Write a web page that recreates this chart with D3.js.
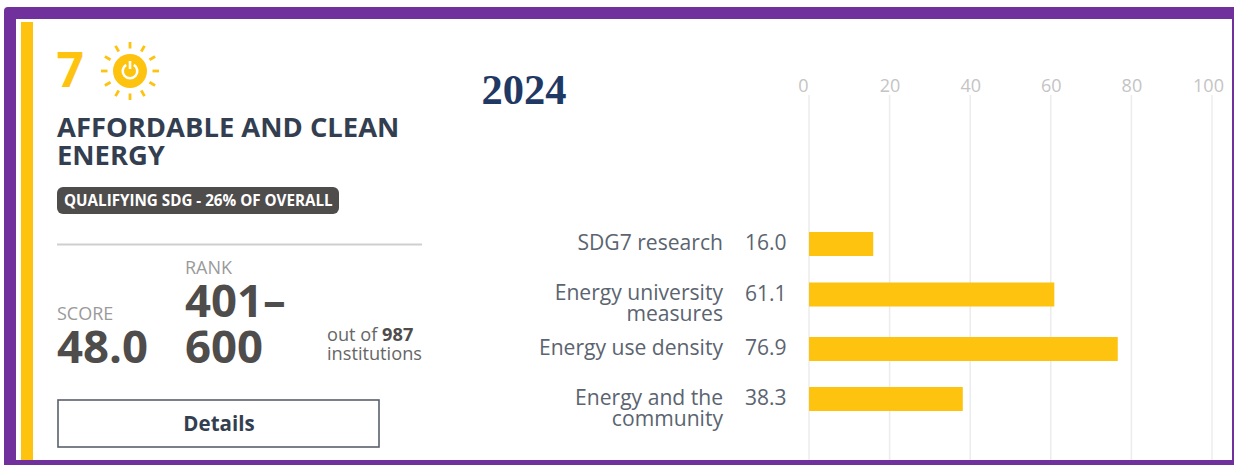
<!DOCTYPE html>
<html><head><meta charset="utf-8">
<script src="https://cdn.jsdelivr.net/npm/d3@7/dist/d3.min.js"></script>
<style>html,body{margin:0;padding:0;background:#fff;overflow:hidden}svg{display:block}text{font-family:"Open Sans",sans-serif}</style>
</head><body><svg id="c" width="1234" height="465"></svg>
<script>
const categories=[["SDG7 research"],["Energy university","measures"],["Energy use density"],["Energy and the","community"]];
const values=[16.0,61.1,76.9,38.3];
const ticks=[0,20,40,60,80,100];
const yearLabel="2024";
const sdgNumber="7";
const titleLines=["AFFORDABLE AND CLEAN","ENERGY"];
const badge="QUALIFYING SDG - 26% OF OVERALL";
const yellow="#fdc30f",purple="#70319c",navy="#333f50",dark="#4f4c4c",grey="#9a9a9a";
const svg=d3.select("#c");
svg.append("rect").attr("x",4).attr("y",7).attr("width",1240).attr("height",470).attr("rx",4).attr("fill",purple);
svg.append("rect").attr("x",16).attr("y",19).attr("width",1216).attr("height",441).attr("fill","#fff");
svg.append("rect").attr("x",21).attr("y",22).attr("width",12).attr("height",438).attr("fill",yellow);
function t(x,y,s,size,fill,weight,anchor){return svg.append("text").attr("x",x).attr("y",y).text(s).attr("font-size",size).attr("fill",fill).attr("font-weight",weight||400).attr("text-anchor",anchor||"start");}
t(56.5,87,sdgNumber,48,yellow,700);
const sun=svg.append("g").attr("transform","translate(130,71)");
d3.range(12).forEach(i=>{const a=i*Math.PI/6;sun.append("line").attr("x1",Math.cos(a)*22.5).attr("y1",Math.sin(a)*22.5).attr("x2",Math.cos(a)*29).attr("y2",Math.sin(a)*29).attr("stroke",yellow).attr("stroke-width",2.8);});
sun.append("circle").attr("r",17).attr("fill",yellow);
sun.append("path").attr("d",d3.arc()({innerRadius:6,outerRadius:8.6,startAngle:0.55,endAngle:2*Math.PI-0.55})).attr("fill","#fff");
sun.append("rect").attr("x",-1.3).attr("y",-10).attr("width",2.6).attr("height",8).attr("fill","#fff");
titleLines.forEach((s,i)=>t(57,137+i*27.5,s,27.4,navy,700));
svg.append("rect").attr("x",57).attr("y",187).attr("width",282).attr("height",27).attr("rx",6).attr("fill",dark);
t(64,206,badge,15.2,"#fff",700);
svg.append("line").attr("x1",57).attr("x2",422).attr("y1",244.5).attr("y2",244.5).attr("stroke","#cfcfcf").attr("stroke-width",2);
t(185,274,"RANK",18,grey,400);
t(57,320,"SCORE",18,grey,400);
t(57,363,"48.0",45.5,dark,700);
t(185,317,"401–",45.5,dark,700);
t(185,363,"600",45.5,dark,700);
const oo=t(327,341,"out of ",18.2,"#666",400);oo.append("tspan").attr("font-weight",700).attr("fill",dark).text("987");
t(327,360,"institutions",18.2,"#666",400);
svg.append("rect").attr("x",58).attr("y",400).attr("width",321).attr("height",47).attr("fill","#fff").attr("stroke","#59606b").attr("stroke-width",1.6);
t(219,431,"Details",20.5,navy,700,"middle");
t(524,104,yearLabel,42,"#1f3864",700,"middle").style("font-family",'"Liberation Serif",serif').attr("textLength",85).attr("lengthAdjust","spacingAndGlyphs");
// chart
const x=d3.scaleLinear().domain([0,100]).range([809,1212]);
const xBar=d3.scaleLinear().domain([0,100]).range([809,1210.5]);
const axis=d3.axisTop(x).tickValues(ticks).tickSize(0).tickPadding(0);
const ag=svg.append("g").attr("transform","translate(0,92)").call(axis);
ag.select(".domain").remove();
ag.selectAll("text").attr("font-size",18).attr("fill","#c4c4c4").style("font-family",'"Open Sans",sans-serif').attr("dx",d=>d===0?-6:d===100?-4:0);
svg.append("g").selectAll("line").data(ticks).join("line").attr("x1",d=>x(d)).attr("x2",d=>x(d)).attr("y1",95).attr("y2",460).attr("stroke","#ececec").attr("stroke-width",1.5);
const bh=24;
const cy=i=>[244,294.5,349,399][i];
svg.append("g").selectAll("rect").data(values).join("rect").attr("x",xBar(0)).attr("y",(d,i)=>cy(i)-bh/2).attr("width",d=>xBar(d)-xBar(0)).attr("height",bh).attr("fill",yellow);
values.forEach((v,i)=>{
  t(745,cy(i)+6,v.toFixed(1),21,"#5b6470",400);
  categories[i].forEach((l,j)=>t(723,cy(i)+5.5+j*21,l,21.1,"#5b6470",400,"end"));
});
</script></body></html>
